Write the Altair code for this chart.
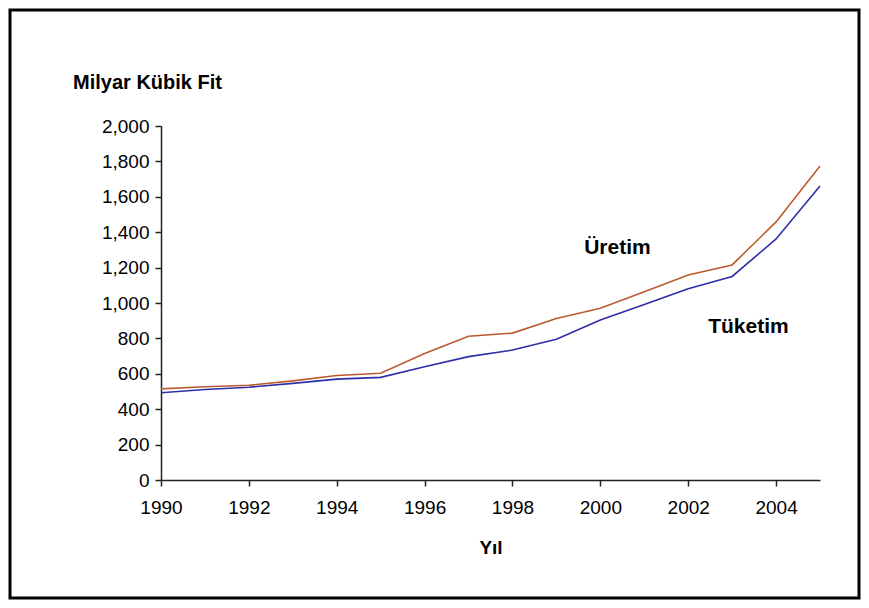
import altair as alt
import pandas as pd

years = list(range(1990, 2006))
uretim = [515, 527, 535, 560, 590, 603, 715, 812, 830, 912, 970, 1064, 1158, 1215, 1458, 1774]
tuketim = [493, 511, 524, 546, 570, 580, 640, 697, 734, 795, 904, 992, 1080, 1150, 1362, 1661]
series_names = ["Üretim", "Tüketim"]
series_colors = ["#BA5B2F", "#2E2EA8"]
x_ticks = list(range(1990, 2005, 2))
y_ticks = list(range(0, 2001, 200))

label_text = ["Üretim", "Tüketim"]
label_year = [2000.39, 2003.37]
label_value = [1311, 864]

FONT = "Liberation Sans"
W, H = 659, 354

df = pd.DataFrame({
    "Yıl": years * 2,
    "Değer": uretim + tuketim,
    "Seri": [series_names[0]] * len(years) + [series_names[1]] * len(years),
})
lab = pd.DataFrame({"Yıl": label_year, "Değer": label_value, "t": label_text})

xs = alt.Scale(domain=[1990, 2005], nice=False, zero=False)
ys = alt.Scale(domain=[0, 2000], nice=False)

x_axis = alt.Axis(values=x_ticks, format="d", title="Yıl",
                  titleY=67, titleBaseline="middle",
                  labelOverlap=False, labelFlush=False, labelBound=False,
                  labelPadding=12, titleFontWeight="bold", titleFontSize=19)
y_axis = alt.Axis(values=y_ticks, format=",d", title="Milyar Kübik Fit",
                  titleAngle=0, titleX=-14, titleY=-44, titleAlign="center",
                  labelOverlap=False, labelFlush=False, labelBound=False,
                  titleBaseline="middle", titleFontWeight="bold", titleFontSize=20,
                  labelPadding=6)

lines = alt.Chart(df).mark_line(strokeWidth=1.6).encode(
    x=alt.X("Yıl:Q", scale=xs, axis=x_axis),
    y=alt.Y("Değer:Q", scale=ys, axis=y_axis),
    color=alt.Color("Seri:N", scale=alt.Scale(domain=series_names, range=series_colors),
                    legend=None),
    detail="Seri:N",
)

labels = alt.Chart(lab).mark_text(font=FONT, fontSize=21, fontWeight="bold",
                                  color="black", align="center", baseline="middle").encode(
    x=alt.X("Yıl:Q", scale=xs, axis=x_axis),
    y=alt.Y("Değer:Q", scale=ys, axis=y_axis),
    text="t:N",
)

frame = alt.Chart(pd.DataFrame({"a": [0]})).mark_rect(
    fill="transparent", stroke="black", strokeWidth=3
).encode(
    x=alt.value(-151), x2=alt.value(698),
    y=alt.value(-116), y2=alt.value(472),
)

chart = alt.layer(frame, lines, labels).properties(
    width=W, height=H,
    autosize=alt.AutoSizeParams(type="none"),
    padding={"left": 153, "top": 118, "right": 41, "bottom": 120},
    background="white",
).configure_view(stroke=None).configure_axis(
    grid=False, domainColor="#222222", domainWidth=1.5, tickColor="#222222",
    tickWidth=1.5, tickSize=6, labelFont=FONT, titleFont=FONT,
    labelFontSize=19, labelColor="black", titleColor="black",
    labelOverlap=False,
)

chart.save("out.html", embed_options={"renderer": "svg", "actions": False})
